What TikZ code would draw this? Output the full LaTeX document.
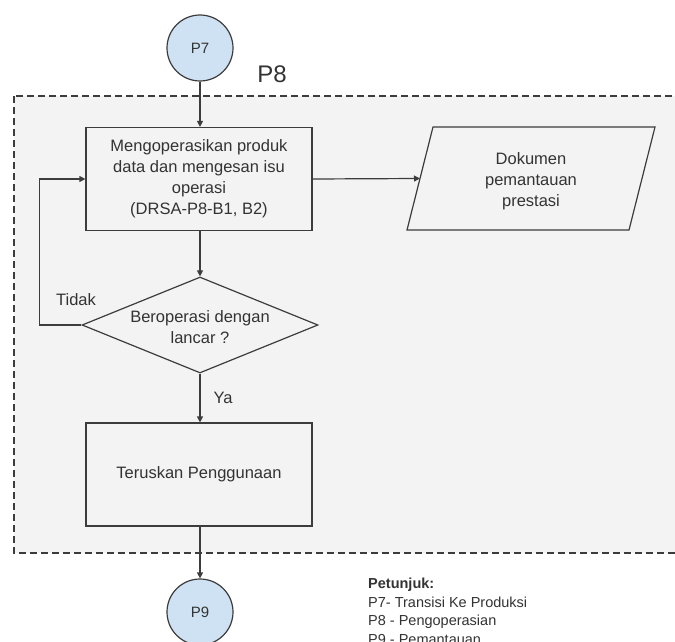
\documentclass[tikz,border=0pt]{standalone}
\usepackage{fontspec}
\setmainfont{Liberation Sans}
\usetikzlibrary{shapes.geometric,arrows.meta}
\definecolor{bgc}{HTML}{F3F3F3}
\definecolor{lnc}{HTML}{3C3C3C}
\definecolor{txc}{HTML}{333333}
\definecolor{blu}{HTML}{CFE2F3}
\begin{document}
\begin{tikzpicture}[x=1pt,y=-1pt,
  line/.style={draw=lnc,line width=1.2pt},
  arr/.style={line,-{Triangle[length=6pt,width=6pt]}},
  maintxt/.style={text=txc,font=\fontsize{16.5}{21}\selectfont,align=center,inner sep=0pt},
  procbox/.style={rectangle,line,fill=bgc,minimum width=226pt,minimum height=103pt,inner sep=0pt,maintxt},
  conn/.style={circle,line,fill=blu,minimum size=66pt,inner sep=0pt,text=txc,font=\fontsize{15}{18}\selectfont},
  decshape/.style={diamond,line,fill=bgc,minimum width=236pt,minimum height=96pt,inner sep=0pt},
  lbl/.style={text=txc,font=\fontsize{16.5}{20}\selectfont,inner sep=0pt},
  legend/.style={text=txc,font=\fontsize{14.5}{18.5}\selectfont,align=left,inner sep=0pt,anchor=north west}
]
\clip (0,0) rectangle (675,642);
\fill[white] (0,0) rectangle (675,642);
% group area
\draw[fill=bgc,draw=lnc,line width=1.2pt,dash pattern=on 7pt off 4pt] (14,96) rectangle (700,553);
\node[text=txc,font=\fontsize{24}{28}\selectfont,inner sep=0pt] (p8lbl) at (272,74) {P8};

\node[conn] (p7) at (200,48) {P7};
\node[procbox] (box1) at (199,179) {Mengoperasikan produk\\data dan mengesan isu\\operasi\\(DRSA-P8-B1, B2)};
% parallelogram
\coordinate (dtl) at (433,127);
\coordinate (dtr) at (655,127);
\coordinate (dbr) at (629,230);
\coordinate (dbl) at (407,230);
\coordinate (dleft) at (420,178.5);
\draw[line,fill=bgc] (dtl) -- (dtr) -- (dbr) -- (dbl) -- cycle;
\node[maintxt] (doc) at (531,181) {Dokumen\\pemantauan\\prestasi};
\node[decshape] (dec) at (200,325) {};
\node[maintxt] (dectxt) at (200,327) {Beroperasi dengan\\lancar ?};
\node[procbox] (box2) at (199,474.5) {Teruskan Penggunaan};
\node[conn] (p9) at (200,612) {P9};

\draw[arr] (p7.south) -- (box1.north -| p7.south);
\draw[arr] (box1.south -| dec.north) -- (dec.north);
\draw[arr] (dec.south) -- (box2.north -| dec.south);
\draw[arr] (box2.south -| p9.north) -- (p9.north);
\draw[arr] (box1.east) -- (dleft);
\draw[arr] (dec.west) -- ++(-42,0) |- (box1.west);

\node[lbl] (tidak) at (76,300) {Tidak};
\node[lbl] (ya) at (223,398) {Ya};

\node[legend] (leg) at (368,578) {\textbf{Petunjuk:}\\P7- Transisi Ke Produksi\\P8 - Pengoperasian\\P9 - Pemantauan};
\end{tikzpicture}
\end{document}
